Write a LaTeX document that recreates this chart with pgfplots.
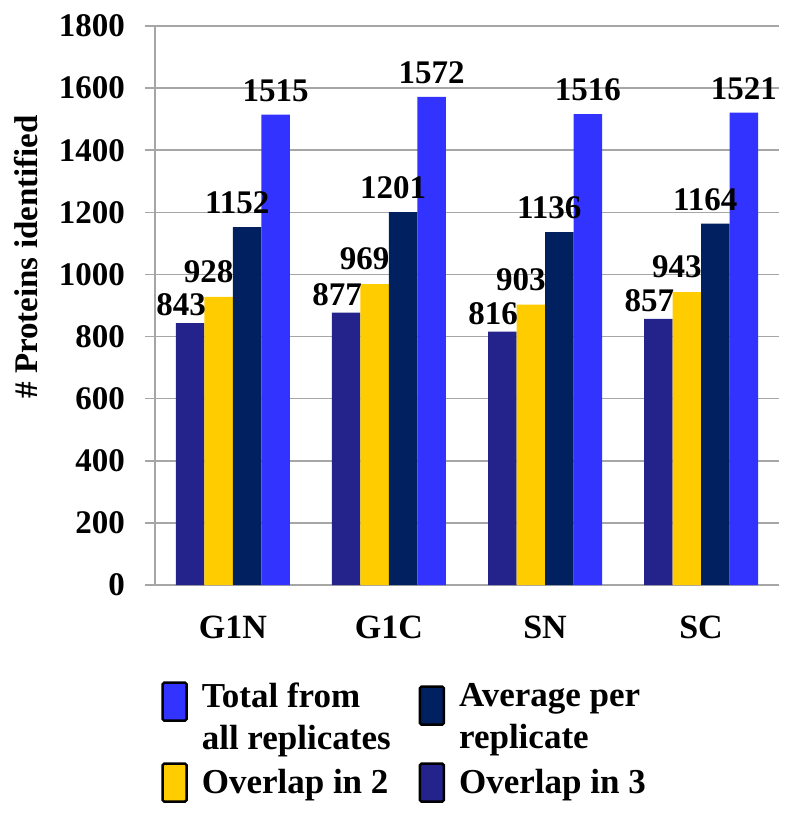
\documentclass[border=0pt]{standalone}
\usepackage{fontspec}
\setmainfont{Liberation Serif}
\usepackage{pgfplots}
\pgfplotsset{compat=1.18}
\pgfplotsset{/pgf/number format/1000 sep={}}
\definecolor{cTot}{HTML}{3333FF}
\definecolor{cAvg}{HTML}{002060}
\definecolor{cOvb}{HTML}{FFCC00}
\definecolor{cOvc}{HTML}{24238C}
\begin{document}
\begin{tikzpicture}
\useasboundingbox (-77.5pt,-114.5pt) rectangle (322.5pt,292.5pt);
\begin{axis}[
  at={(0pt,0pt)}, anchor=south west,
  scale only axis, width=312pt, height=279.5pt,
  ybar=0pt, bar width=14.25pt,
  ymin=0, ymax=1800, ytick={0,200,...,1800},
  xmin=-0.5, xmax=3.5, xtick={0,1,2,3}, xticklabels={G1N,G1C,SN,SC},
  axis x line*=bottom, axis y line*=left,
  axis line style={black!35, line width=0.8pt, -},
  ymajorgrids, grid style={black!35, line width=0.8pt},
  xtick style={draw=none},
  ytick style={black!35, line width=0.8pt},
  tick align=outside, major tick length=5pt,
  /pgf/number format/assume math mode=true,
  yticklabel style={font=\rmfamily\bfseries\fontsize{16.5}{16.5}\selectfont, xshift=-6.5pt},
  xticklabel style={font=\rmfamily\bfseries\fontsize{17}{17}\selectfont, yshift=-7pt},
  ylabel={\# Proteins identified},
  ylabel style={font=\rmfamily\bfseries\fontsize{16.5}{16.5}\selectfont, at={(axis description cs:-0.207,0.587)}, anchor=center},
  nodes near coords,
  every node near coord/.append style={font=\rmfamily\bfseries\fontsize{16.5}{16.5}\selectfont, black},
  legend columns=2, reverse legend,
  legend cell align=left,
  legend style={draw=none, fill=none, at={(axis description cs:0,-0.16)}, anchor=north west,
    font=\rmfamily\bfseries\fontsize{17.5}{21}\selectfont,
    nodes={align=left, inner sep=2pt, font=\rmfamily\bfseries\fontsize{17.5}{21}\selectfont},
    /tikz/every odd column/.append style={column sep=5pt},
    /tikz/every even column/.append style={column sep=12pt},
    row sep=3pt},
  legend image code/.code={\draw[#1, draw=black, line width=1.2pt, rounded corners=0.8pt] (0pt,-9.5pt) rectangle (12pt,9.5pt);},
]
\addplot[fill=cOvc, draw=none, nodes near coords style={xshift=-4.5pt}] coordinates {(0,843) (1,877) (2,816) (3,857)};
\addplot[fill=cOvb, draw=none, nodes near coords style={xshift=-5pt, yshift=3.5pt}] coordinates {(0,928) (1,969) (2,903) (3,943)};
\addplot[fill=cAvg, draw=none, legend image post style={yshift=6pt}, nodes near coords style={xshift=-5pt, yshift=3pt}] coordinates {(0,1152) (1,1201) (2,1136) (3,1164)};
\addplot[fill=cTot, draw=none, legend image post style={yshift=8pt}, nodes near coords style={yshift=3pt}] coordinates {(0,1515) (1,1572) (2,1516) (3,1521)};
\addlegendentry{Overlap in 3}
\addlegendentry{Overlap in 2}
\addlegendentry{Average per\\replicate}
\addlegendentry{Total from\\all replicates}
\end{axis}
\end{tikzpicture}
\end{document}
